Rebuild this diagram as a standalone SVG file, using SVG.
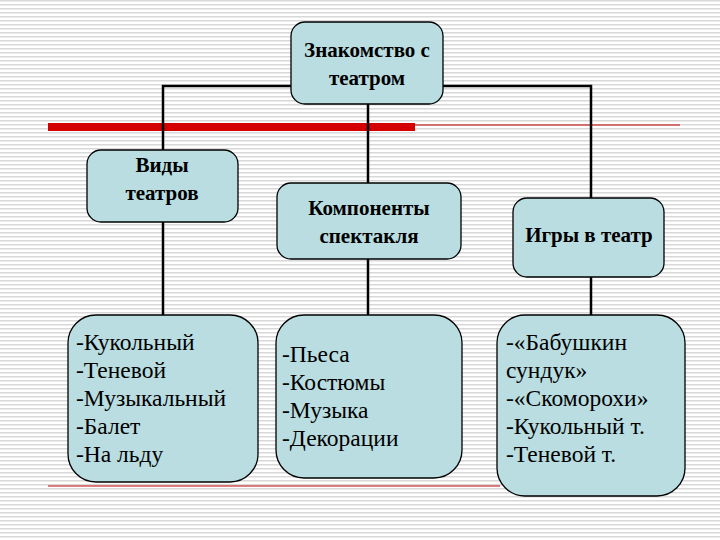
<svg xmlns="http://www.w3.org/2000/svg" width="720" height="540" viewBox="0 0 720 540" font-family="'Liberation Serif', 'DejaVu Serif', serif">
<defs>
<pattern id="stripes" width="8" height="4" patternUnits="userSpaceOnUse">
<rect width="8" height="4" fill="#ffffff"/>
<rect width="8" height="1.5" fill="#d8d8d8"/>
</pattern>
</defs>
<style>
.box{fill:#b9dde0;stroke:#000;stroke-width:1.3}
.t{font-family:'Liberation Serif','DejaVu Serif',serif;font-size:23.5px;fill:#000}
.h{font-weight:bold;font-size:21px}
.c{text-anchor:middle}
.ln{stroke:#000;stroke-width:2.5;fill:none}
</style>
<rect width="720" height="540" fill="url(#stripes)"/>
<rect x="48" y="123" width="367" height="8" fill="#d40000"/>
<line x1="415" y1="125" x2="680" y2="125" stroke="#c00000" stroke-width="1"/>
<line x1="48" y1="486" x2="500" y2="486" stroke="#c00000" stroke-width="1"/>
<g id="connectors">
<polyline class="ln" points="163,150 163,86 591,86 591,198"/>
<line class="ln" x1="368" y1="104" x2="368" y2="183"/>
<line class="ln" x1="163" y1="222" x2="163" y2="315"/>
<line class="ln" x1="368" y1="259" x2="368" y2="315"/>
<line class="ln" x1="591" y1="277" x2="591" y2="315"/>
</g>
<g id="root"><rect class="box" x="291" y="22" width="152" height="82" rx="14"/>
<text class="t h c" x="367" y="57">Знакомство с</text><text class="t h c" x="367" y="85">театром</text></g>
<g id="vidy"><rect class="box" x="87" y="150" width="151" height="72" rx="14"/>
<text class="t h c" x="162" y="172">Виды</text><text class="t h c" x="162" y="200">театров</text></g>
<g id="komp"><rect class="box" x="277" y="183" width="184" height="76" rx="14"/>
<text class="t h c" x="369" y="215">Компоненты</text><text class="t h c" x="369" y="243">спектакля</text></g>
<g id="igry"><rect class="box" x="513" y="198" width="151" height="79" rx="14"/>
<text class="t h c" x="589" y="242">Игры в театр</text></g>
<g id="list1"><rect class="box" x="68" y="315" width="190" height="167" rx="28"/>
<text class="t" x="76" y="350">-Кукольный</text><text class="t" x="76" y="378">-Теневой</text><text class="t" x="76" y="406">-Музыкальный</text><text class="t" x="76" y="434">-Балет</text><text class="t" x="76" y="462">-На льду</text></g>
<g id="list2"><rect class="box" x="276" y="315" width="186" height="163" rx="28"/>
<text class="t" x="282" y="362">-Пьеса</text><text class="t" x="282" y="390">-Костюмы</text><text class="t" x="282" y="418">-Музыка</text><text class="t" x="282" y="446">-Декорации</text></g>
<g id="list3"><rect class="box" x="497" y="315" width="188" height="181" rx="28"/>
<text class="t" x="506" y="350">-«Бабушкин</text><text class="t" x="506" y="378">сундук»</text><text class="t" x="506" y="406">-«Скоморохи»</text><text class="t" x="506" y="434">-Кукольный т.</text><text class="t" x="506" y="462">-Теневой т.</text></g>
</svg>
